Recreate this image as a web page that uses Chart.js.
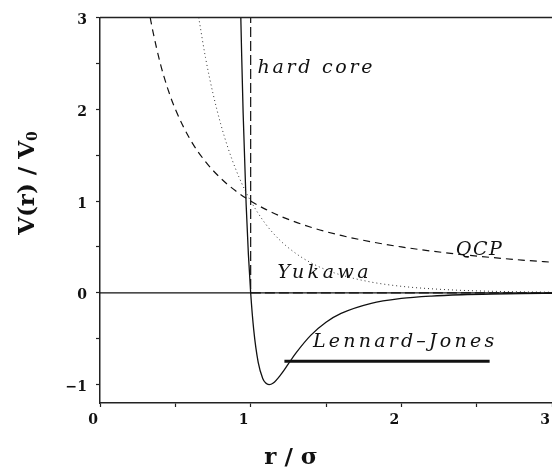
<!DOCTYPE html>
<html>
<head>
<meta charset="utf-8">
<script src="https://cdn.jsdelivr.net/npm/chart.js@4/dist/chart.umd.min.js"></script>
<style>
  html, body { margin: 0; padding: 0; background: #fff; overflow: hidden; }
  canvas { display: block; }
</style>
</head>
<body>
<canvas id="c" width="552" height="471"></canvas>
<script>
// Lennard-Jones potential (solid)
const ljR = [0.93, 0.935, 0.94, 0.95, 0.97, 0.985, 1.0, 1.02, 1.05, 1.08, 1.1, 1.122, 1.15, 1.2, 1.25, 1.3, 1.4, 1.5, 1.6, 1.8, 2.0, 2.2, 2.4, 2.6, 2.8, 3.0];
const ljV = [3.37, 2.97, 2.61, 1.96, 0.963, 0.416, 0.0, -0.398, -0.758, -0.932, -0.983, -1.0, -0.982, -0.891, -0.774, -0.657, -0.461, -0.320, -0.224, -0.114, -0.0615, -0.035, -0.0208, -0.0129, -0.0083, -0.0055];

// Yukawa potential (dotted)
const yukR = [0.655, 0.7, 0.75, 0.8, 0.85, 0.9, 0.95, 1.0, 1.1, 1.2, 1.3, 1.4, 1.5, 1.6, 1.8, 2.0, 2.2, 2.4, 2.6, 2.8, 3.0];
const yukV = [3.0, 2.564, 2.171, 1.846, 1.576, 1.350, 1.160, 1.0, 0.748, 0.564, 0.429, 0.327, 0.251, 0.194, 0.117, 0.071, 0.044, 0.027, 0.017, 0.0107, 0.0067];

// One-component plasma, Coulomb 1/r (dashed)
const qcpR = [0.333, 0.35, 0.4, 0.45, 0.5, 0.6, 0.7, 0.8, 0.9, 1.0, 1.1, 1.2, 1.4, 1.6, 1.8, 2.0, 2.2, 2.4, 2.6, 2.8, 3.0];
const qcpV = [3.0, 2.857, 2.5, 2.222, 2.0, 1.667, 1.429, 1.25, 1.111, 1.0, 0.909, 0.833, 0.714, 0.625, 0.556, 0.5, 0.455, 0.417, 0.385, 0.357, 0.333];

// Hard-core wall (long dashes)
const hcR = [1.0, 1.0, 3.0];
const hcV = [3.2, 0.0, 0.0];

// Zero reference line
const zeroR = [0, 3];
const zeroV = [0, 0];

// Key stroke beneath the Lennard-Jones label
const keyR = [1.224, 2.586];
const keyV = [-0.745, -0.745];

// Axis ticks
const xTicks = [0, 0.5, 1, 1.5, 2, 2.5, 3];
const yTicks = [-1, -0.5, 0, 0.5, 1, 1.5, 2, 2.5, 3];

// Curve annotations (position in data units, left / baseline)
const notes = [
  { text: 'hard core', r: 1.046, v: 2.39, spacing: 2.7 },
  { text: 'Yukawa', r: 1.178, v: 0.163, spacing: 3.5 },
  { text: 'QCP', r: 2.362, v: 0.413, spacing: 1.5 },
  { text: 'Lennard\u2013Jones', r: 1.414, v: -0.587, spacing: 3.2 }
];

// The plot frame runs a few pixels past the canvas on the right
const RIGHT_OVERHANG = -4;

const pts = (xs, ys) => xs.map((x, i) => ({ x: x, y: ys[i] }));

const decor = {
  id: 'decor',
  afterDatasetsDraw(chart) {
    const { ctx, chartArea: a, scales: { x, y } } = chart;
    ctx.save();
    // top edge of the frame
    ctx.strokeStyle = '#222';
    ctx.lineWidth = 1.5;
    ctx.beginPath();
    ctx.moveTo(a.left, a.top);
    ctx.lineTo(a.right, a.top);
    ctx.stroke();

    ctx.fillStyle = '#111';
    ctx.font = 'italic 19px "DejaVu Serif"';
    ctx.textAlign = 'left';
    ctx.textBaseline = 'alphabetic';
    notes.forEach(n => {
      ctx.letterSpacing = n.spacing + 'px';
      ctx.fillText(n.text, x.getPixelForValue(n.r), y.getPixelForValue(n.v));
    });
    ctx.letterSpacing = '0px';

    // x-axis title
    ctx.font = 'bold 23px "DejaVu Serif"';
    ctx.textAlign = 'center';
    ctx.fillText('r / \u03c3', 291, 464);

    // y-axis title, rotated
    ctx.translate(28, 183);
    ctx.rotate(-Math.PI / 2);
    const main = 'V(r) / V';
    ctx.font = 'bold 23px "DejaVu Serif"';
    const wMain = ctx.measureText(main).width;
    ctx.font = 'bold 14px "DejaVu Serif"';
    const wSub = ctx.measureText('0').width;
    const start = -(wMain + wSub) / 2;
    ctx.textAlign = 'left';
    ctx.textBaseline = 'middle';
    ctx.font = 'bold 23px "DejaVu Serif"';
    ctx.fillText(main, start, 0);
    ctx.font = 'bold 14px "DejaVu Serif"';
    ctx.fillText('0', start + wMain, 5);
    ctx.restore();
  }
};

const tickFont = { family: 'DejaVu Serif', size: 14, weight: 'bold' };

new Chart(document.getElementById('c'), {
  type: 'scatter',
  data: {
    datasets: [
      { label: 'zero', data: pts(zeroR, zeroV), showLine: true, borderColor: '#111', borderWidth: 1.2, pointRadius: 0 },
      { label: 'QCP', data: pts(qcpR, qcpV), showLine: true, borderColor: '#111', borderWidth: 1.2, borderDash: [7, 5], pointRadius: 0, cubicInterpolationMode: 'monotone' },
      { label: 'Yukawa', data: pts(yukR, yukV), showLine: true, borderColor: '#333', borderWidth: 1, borderDash: [1, 3], pointRadius: 0, cubicInterpolationMode: 'monotone' },
      { label: 'hard core', data: pts(hcR, hcV), showLine: true, borderColor: '#111', borderWidth: 1.2, borderDash: [10, 4], pointRadius: 0 },
      { label: 'Lennard-Jones', data: pts(ljR, ljV), showLine: true, borderColor: '#111', borderWidth: 1.3, pointRadius: 0, cubicInterpolationMode: 'monotone' },
      { label: 'key', data: pts(keyR, keyV), showLine: true, borderColor: '#111', borderWidth: 3, pointRadius: 0 }
    ]
  },
  options: {
    responsive: false,
    animation: false,
    layout: { autoPadding: false, padding: { top: 16, right: RIGHT_OVERHANG, left: 0, bottom: 0 } },
    plugins: { legend: { display: false }, tooltip: { enabled: false } },
    scales: {
      x: {
        type: 'linear', min: 0, max: 3,
        afterBuildTicks: s => { s.ticks = xTicks.map(v => ({ value: v })); },
        afterFit: s => { s.height = 68; s.paddingRight = RIGHT_OVERHANG; s.paddingLeft = 0; },
        grid: { drawOnChartArea: false, drawTicks: true, tickLength: 4, color: '#222', tickWidth: 1.2 },
        border: { display: true, color: '#222', width: 1.5 },
        ticks: {
          font: tickFont, color: '#111', padding: 5, labelOffset: -7, maxRotation: 0,
          callback: v => Number.isInteger(v) ? String(v) : ''
        }
      },
      y: {
        type: 'linear', min: -1.2, max: 3,
        afterBuildTicks: s => { s.ticks = yTicks.map(v => ({ value: v })); },
        afterFit: s => { s.width = 100; s.paddingRight = RIGHT_OVERHANG; },
        grid: { drawOnChartArea: false, drawTicks: true, tickLength: 4, color: '#222', tickWidth: 1.2 },
        border: { display: true, color: '#222', width: 1.5 },
        ticks: {
          font: tickFont, color: '#111', padding: 9, labelOffset: 3,
          callback: v => Number.isInteger(v) ? (v < 0 ? '\u2212' + Math.abs(v) : String(v)) : ''
        }
      }
    }
  },
  plugins: [decor]
});
</script>
</body>
</html>
